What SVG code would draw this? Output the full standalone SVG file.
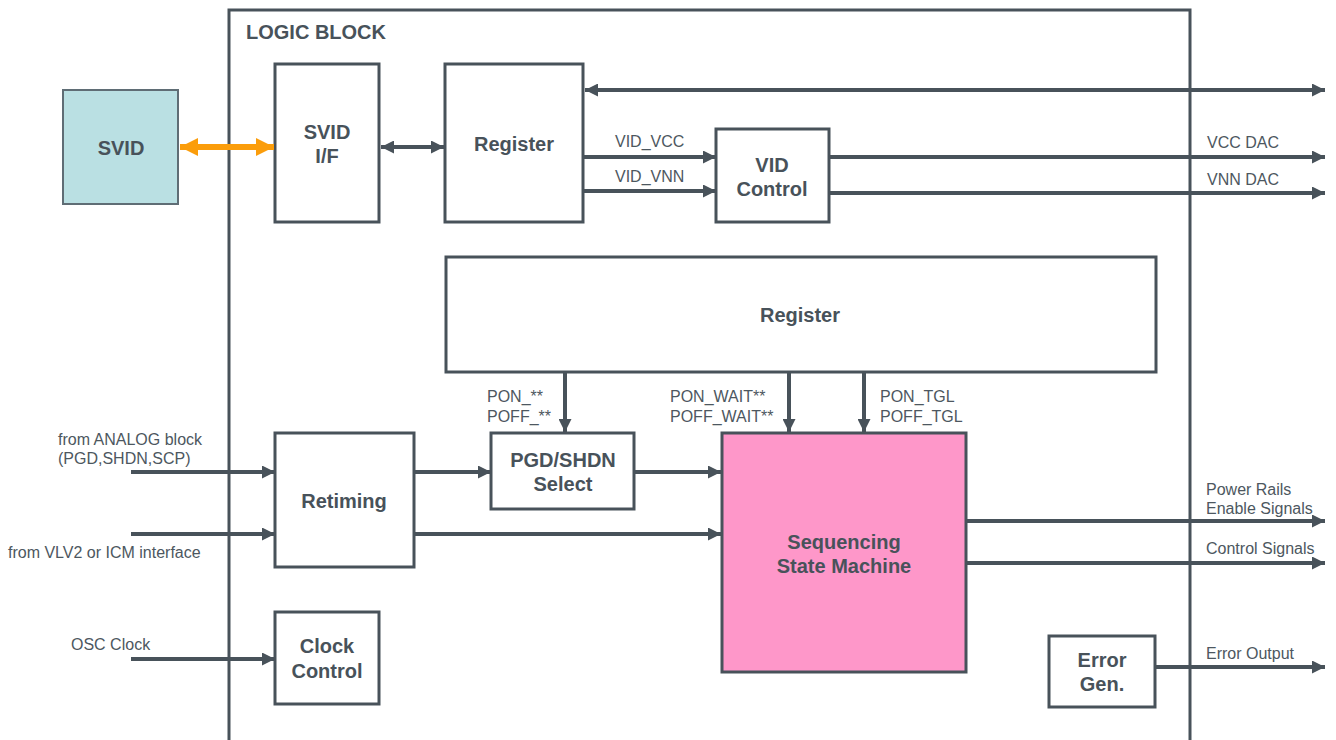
<svg xmlns="http://www.w3.org/2000/svg" width="1336" height="740" viewBox="0 0 1336 740">
<defs>
<style>
.box{fill:#ffffff;stroke:#48525a;stroke-width:3}
.b{font-family:"Liberation Sans",Arial,sans-serif;font-weight:bold;font-size:20px;fill:#48525a;text-anchor:middle}
.s{font-family:"Liberation Sans",Arial,sans-serif;font-size:16px;fill:#4d5760}
.w{fill:none;stroke:#48525a;stroke-width:4}
.o{fill:none;stroke:#fb9d0b;stroke-width:6}
</style>
<marker id="ah" markerUnits="userSpaceOnUse" viewBox="0 0 13 13" refX="13" refY="6.5" markerWidth="13" markerHeight="13" orient="auto-start-reverse">
<path d="M0,0 L13,6.5 L0,13 z" fill="#48525a"/>
</marker>
<marker id="oh" markerUnits="userSpaceOnUse" viewBox="0 0 18 18" refX="18" refY="9" markerWidth="18" markerHeight="18" orient="auto-start-reverse">
<path d="M0,0 L18,9 L0,18 z" fill="#fb9d0b"/>
</marker>
</defs>
<rect width="1336" height="740" fill="#ffffff"/>

<g id="logic-block">
<rect x="229" y="10" width="961" height="740" fill="none" stroke="#48525a" stroke-width="3"/>
<text x="246" y="39" class="b" style="text-anchor:start">LOGIC BLOCK</text>
</g>

<g id="svid">
<rect x="63" y="90" width="115" height="114" fill="#bae0e3" stroke="#5f6d75" stroke-width="2"/>
<text x="121" y="155" class="b">SVID</text>
</g>

<g id="svid-if">
<rect class="box" x="275" y="64" width="104" height="158"/>
<text x="327" y="139" class="b">SVID</text>
<text x="327" y="163" class="b">I/F</text>
</g>

<g id="register-top">
<rect class="box" x="445" y="64" width="138" height="158"/>
<text x="514" y="151" class="b">Register</text>
</g>

<g id="vid-control">
<rect class="box" x="716" y="129" width="113" height="93"/>
<text x="772" y="172" class="b">VID</text>
<text x="772" y="196" class="b">Control</text>
</g>

<g id="register-mid">
<rect class="box" x="446" y="257" width="710" height="115"/>
<text x="800" y="322" class="b">Register</text>
</g>

<g id="pgd-shdn-select">
<rect class="box" x="491" y="433" width="143" height="76"/>
<text x="563" y="467" class="b">PGD/SHDN</text>
<text x="563" y="491" class="b">Select</text>
</g>

<g id="sequencing-state-machine">
<rect x="722" y="433" width="244" height="239" fill="#fe97c9" stroke="#48525a" stroke-width="3"/>
<text x="844" y="549" class="b">Sequencing</text>
<text x="844" y="573" class="b">State Machine</text>
</g>

<g id="retiming">
<rect class="box" x="275" y="433" width="139" height="134"/>
<text x="344" y="508" class="b">Retiming</text>
</g>

<g id="clock-control">
<rect class="box" x="275" y="612" width="104" height="92"/>
<text x="327" y="653" class="b">Clock</text>
<text x="327" y="678" class="b">Control</text>
</g>

<g id="error-gen">
<rect class="box" x="1049" y="636" width="106" height="71"/>
<text x="1102" y="667" class="b">Error</text>
<text x="1102" y="691" class="b">Gen.</text>
</g>

<g id="connectors">
<line class="o" x1="180" y1="147" x2="274" y2="147" marker-start="url(#oh)" marker-end="url(#oh)"/>
<line class="w" x1="381" y1="147" x2="444" y2="147" marker-start="url(#ah)" marker-end="url(#ah)"/>
<line class="w" x1="585" y1="90" x2="1325" y2="90" marker-start="url(#ah)" marker-end="url(#ah)"/>
<line class="w" x1="584" y1="157" x2="716" y2="157" marker-end="url(#ah)"/>
<line class="w" x1="584" y1="191" x2="716" y2="191" marker-end="url(#ah)"/>
<line class="w" x1="830" y1="157" x2="1325" y2="157" marker-end="url(#ah)"/>
<line class="w" x1="830" y1="193" x2="1325" y2="193" marker-end="url(#ah)"/>
<line class="w" x1="565" y1="373" x2="565" y2="432" marker-end="url(#ah)"/>
<line class="w" x1="789" y1="373" x2="789" y2="432" marker-end="url(#ah)"/>
<line class="w" x1="864" y1="373" x2="864" y2="432" marker-end="url(#ah)"/>
<line class="w" x1="131" y1="472" x2="275" y2="472" marker-end="url(#ah)"/>
<line class="w" x1="131" y1="534" x2="275" y2="534" marker-end="url(#ah)"/>
<line class="w" x1="131" y1="659" x2="275" y2="659" marker-end="url(#ah)"/>
<line class="w" x1="415" y1="472" x2="491" y2="472" marker-end="url(#ah)"/>
<line class="w" x1="635" y1="472" x2="721" y2="472" marker-end="url(#ah)"/>
<line class="w" x1="415" y1="534" x2="721" y2="534" marker-end="url(#ah)"/>
<line class="w" x1="967" y1="521" x2="1325" y2="521" marker-end="url(#ah)"/>
<line class="w" x1="967" y1="563" x2="1325" y2="563" marker-end="url(#ah)"/>
<line class="w" x1="1156" y1="667" x2="1325" y2="667" marker-end="url(#ah)"/>
</g>

<g id="labels">
<text class="s" x="615" y="147">VID_VCC</text>
<text class="s" x="615" y="182">VID_VNN</text>
<text class="s" x="1207" y="148">VCC DAC</text>
<text class="s" x="1207" y="185">VNN DAC</text>
<text class="s" x="487" y="402">PON_**</text>
<text class="s" x="487" y="422">POFF_**</text>
<text class="s" x="670" y="402">PON_WAIT**</text>
<text class="s" x="670" y="422">POFF_WAIT**</text>
<text class="s" x="880" y="402">PON_TGL</text>
<text class="s" x="880" y="422">POFF_TGL</text>
<text class="s" x="58" y="445">from ANALOG block</text>
<text class="s" x="58" y="464">(PGD,SHDN,SCP)</text>
<text class="s" x="8" y="558">from VLV2 or ICM interface</text>
<text class="s" x="71" y="650">OSC Clock</text>
<text class="s" x="1206" y="495">Power Rails</text>
<text class="s" x="1206" y="514">Enable Signals</text>
<text class="s" x="1206" y="554">Control Signals</text>
<text class="s" x="1206" y="659">Error Output</text>
</g>
</svg>
